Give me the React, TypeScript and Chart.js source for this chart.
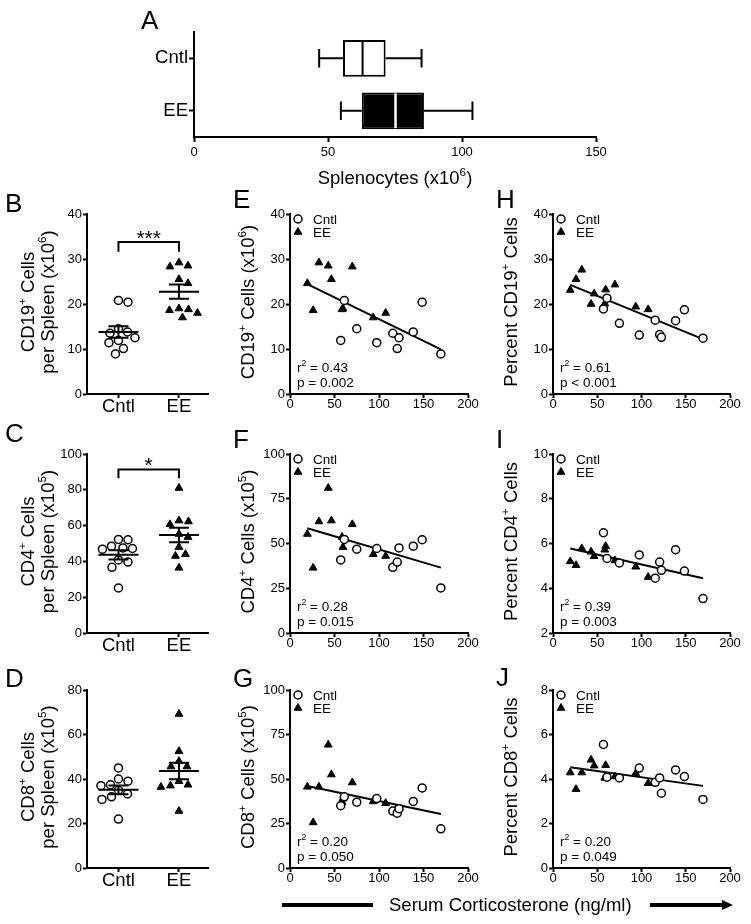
import React, { useEffect, useRef } from 'react';
import { Chart, registerables } from 'chart.js';

Chart.register(...registerables);

const FONT = '"Liberation Sans", Arial, Helvetica, sans-serif';
const TICK = 13;

// ---------------- DATA ----------------
const groups = ['Cntl', 'EE'];

// Panel A: splenocytes (x10^6) five-number summary: min, q1, median, q3, max
const splenoCntl = [46.7, 55.6, 62.9, 71.5, 84.9];
const splenoEE = [54.8, 62.6, 75.2, 85.8, 103.9];

// Serum corticosterone (ng/ml) per animal
const corticoCntl = [57, 61, 75, 97.5, 115.5, 120.5, 122.5, 138.5, 148.5, 169.5];
const corticoEE = [19.5, 26, 32.5, 43, 46.5, 58.5, 59.5, 70, 93.5, 107.5];

// Cell counts per spleen
const cd19CountCntl = [11.9, 20.8, 14.5, 11.4, 13.5, 10.1, 12.5, 13.8, 20.4, 8.9];
const cd19CountEE = [24.6, 18.6, 29.2, 28.5, 25.5, 18.8, 19.0, 28.3, 17.0, 18.0];
const cd4CountCntl = [40.8, 52.3, 46.8, 47.2, 36.7, 39.6, 47.5, 48.5, 52.1, 25.2];
const cd4CountEE = [55.3, 36.4, 62.3, 81.0, 62.8, 53.6, 48.0, 60.7, 44.0, 43.0];
const cd8CountCntl = [35.0, 40.0, 37.0, 39.0, 32.0, 30.8, 33.3, 37.4, 45.0, 22.0];
const cd8CountEE = [45.6, 25.6, 45.6, 69.2, 52.5, 37.0, 39.0, 48.0, 37.4, 36.4];

// Percent of splenocytes
const cd19PctCntl = [18.9, 21.3, 15.7, 13.1, 16.4, 13.2, 12.6, 16.3, 18.7, 12.4];
const cd19PctEE = [23.1, 25.5, 27.6, 20.0, 22.3, 20.1, 23.2, 24.3, 19.4, 18.8];
const cd4PctCntl = [6.48, 5.33, 5.13, 5.49, 4.45, 5.17, 4.8, 5.72, 4.77, 3.54];
const cd4PctEE = [5.2, 5.03, 5.78, 5.63, 5.43, 5.72, 5.88, 5.24, 4.96, 4.5];
const cd8PctCntl = [5.55, 4.08, 4.05, 4.49, 3.85, 4.05, 3.36, 4.41, 4.11, 3.08];
const cd8PctEE = [4.29, 3.54, 4.29, 4.86, 4.6, 4.05, 4.62, 4.11, 4.26, 3.81];

// Regression statistics (E, F, G, H, I, J)
const statR2 = ['0.43', '0.28', '0.20', '0.61', '0.39', '0.20'];
const statP = ['= 0.002', '= 0.015', '= 0.050', '< 0.001', '= 0.003', '= 0.049'];

// Significance labels (B, C, D)
const sigLabels = ['***', '*', ''];

// ---------------- HELPERS ----------------
type Seg = [string, boolean?];

function drawRich(
  ctx: CanvasRenderingContext2D,
  segs: Seg[],
  x: number,
  y: number,
  size: number,
  align: 'left' | 'center' = 'left',
  rotate = false
) {
  ctx.save();
  ctx.fillStyle = '#000';
  ctx.textBaseline = 'alphabetic';
  ctx.textAlign = 'left';
  ctx.translate(x, y);
  if (rotate) ctx.rotate(-Math.PI / 2);
  const supSize = size * 0.64;
  let total = 0;
  for (const [t, sup] of segs) {
    ctx.font = `${sup ? supSize : size}px ${FONT}`;
    total += ctx.measureText(t).width;
  }
  let cx = align === 'center' ? -total / 2 : 0;
  const base = size * 0.358;
  for (const [t, sup] of segs) {
    ctx.font = `${sup ? supSize : size}px ${FONT}`;
    ctx.fillText(t, cx, sup ? base - size * 0.42 : base);
    cx += ctx.measureText(t).width;
  }
  ctx.restore();
}

function drawLetter(ctx: CanvasRenderingContext2D, t: string, x: number, baseline: number) {
  ctx.save();
  ctx.fillStyle = '#000';
  ctx.font = `26px ${FONT}`;
  ctx.textBaseline = 'alphabetic';
  ctx.textAlign = 'left';
  ctx.fillText(t, x, baseline);
  ctx.restore();
}

function drawCircle(ctx: CanvasRenderingContext2D, x: number, y: number) {
  ctx.save();
  ctx.beginPath();
  ctx.arc(x, y, 4, 0, Math.PI * 2);
  ctx.fillStyle = '#fff';
  ctx.fill();
  ctx.lineWidth = 1.5;
  ctx.strokeStyle = '#000';
  ctx.stroke();
  ctx.restore();
}

function drawTriangle(ctx: CanvasRenderingContext2D, x: number, y: number) {
  const r = 4.5;
  ctx.save();
  ctx.beginPath();
  ctx.moveTo(x, y - r);
  ctx.lineTo(x + 0.866 * r, y + 0.5 * r);
  ctx.lineTo(x - 0.866 * r, y + 0.5 * r);
  ctx.closePath();
  ctx.fillStyle = '#000';
  ctx.fill();
  ctx.lineWidth = 1;
  ctx.strokeStyle = '#000';
  ctx.stroke();
  ctx.restore();
}

const mean = (a: number[]) => a.reduce((s, v) => s + v, 0) / a.length;
const sem = (a: number[]) => {
  const m = mean(a);
  return Math.sqrt(a.reduce((s, v) => s + (v - m) ** 2, 0) / (a.length - 1)) / Math.sqrt(a.length);
};

// beeswarm offsets (in x-units) so markers do not overlap
function swarm(values: number[], pxPerY: number, pxPerX: number, diameter: number): number[] {
  const order = values.map((_, i) => i).sort((a, b) => values[b] - values[a]);
  const placed: { x: number; y: number }[] = [];
  const out = new Array(values.length).fill(0);
  for (const i of order) {
    const y = values[i] * pxPerY;
    let best = 0;
    outer: for (let k = 0; k < 400; k++) {
      const cands = k === 0 ? [0] : [k * 0.5, -k * 0.5];
      for (const c of cands) {
        if (placed.every((p) => Math.hypot(p.x - c, p.y - y) >= diameter)) {
          best = c;
          break outer;
        }
      }
    }
    placed.push({ x: best, y });
    out[i] = best / pxPerX;
  }
  return out;
}

function axis(fontSize: number, tickLen: number, pad: number, tickExtra: any = {}, rest: any = {}) {
  return {
    border: { display: true, color: '#000', width: 2 },
    grid: {
      display: true,
      drawOnChartArea: false,
      drawTicks: true,
      tickLength: tickLen,
      tickWidth: 2,
      tickColor: '#000',
      color: '#000',
      ...(rest.grid || {}),
    },
    ticks: { color: '#000', font: { family: FONT, size: fontSize, lineHeight: 1 }, padding: pad, ...tickExtra },
    ...Object.fromEntries(Object.entries(rest).filter(([k]) => k !== 'grid')),
  };
}

type Rect = { x: number; y: number; w: number; h: number };
type Area = { L: number; T: number; R: number; B: number };

function ChartBox({ cell, area, make, yw = 30, xh = 22 }: { cell: Rect; area: Area; make: () => any; yw?: number; xh?: number }) {
  const ref = useRef<HTMLCanvasElement>(null);
  useEffect(() => {
    const cfg = make();
    cfg.options = cfg.options || {};
    cfg.options.animation = false;
    cfg.options.responsive = false;
    cfg.options.maintainAspectRatio = false;
    cfg.options.events = [];
    cfg.options.layout = {
      padding: {
        left: area.L - cell.x - yw,
        top: area.T - cell.y,
        right: cell.x + cell.w - area.R,
        bottom: cell.y + cell.h - area.B - xh,
      },
    };
    cfg.options.scales.x.afterFit = (s: any) => {
      s.height = xh;
    };
    cfg.options.scales.y.afterFit = (s: any) => {
      s.width = yw;
    };
    cfg.options.plugins = { ...(cfg.options.plugins || {}), legend: { display: false }, tooltip: { enabled: false } };
    const chart = new Chart(ref.current as HTMLCanvasElement, cfg);
    return () => chart.destroy();
  }, []);
  return (
    <canvas
      ref={ref}
      width={cell.w}
      height={cell.h}
      style={{ position: 'absolute', left: cell.x, top: cell.y, width: cell.w, height: cell.h }}
    />
  );
}

// ---------------- PANEL A ----------------
const cellA: Rect = { x: 130, y: 0, w: 490, h: 195 };
const areaA: Area = { L: 194, T: 32, R: 596, B: 137 };

function makeA() {
  const stats = [splenoCntl, splenoEE];
  return {
    type: 'bar',
    data: {
      labels: groups,
      datasets: [
        {
          data: stats.map((s) => [s[1], s[3]]),
          backgroundColor: ['#fff', '#000'],
          borderColor: '#000',
          borderWidth: 2,
          borderSkipped: false,
          barPercentage: 0.7,
          categoryPercentage: 1,
        },
      ],
    },
    options: {
      indexAxis: 'y',
      scales: {
        x: { type: 'linear', min: 0, max: 150, ...axis(TICK, 5, 4, { stepSize: 50 }) },
        y: { type: 'category', ...axis(18.5, 5, 1, {}, { grid: { offset: false } }) },
      },
    },
    plugins: [
      {
        id: 'boxdeco',
        afterDatasetsDraw(chart: any) {
          const ctx = chart.ctx as CanvasRenderingContext2D;
          const xs = chart.scales.x;
          const ys = chart.scales.y;
          const meta = chart.getDatasetMeta(0);
          stats.forEach((s, i) => {
            const yc = ys.getPixelForValue(i);
            const h = meta.data[i].height;
            ctx.save();
            ctx.strokeStyle = '#000';
            ctx.lineWidth = 2;
            ctx.beginPath();
            ctx.moveTo(xs.getPixelForValue(s[0]), yc);
            ctx.lineTo(xs.getPixelForValue(s[1]), yc);
            ctx.moveTo(xs.getPixelForValue(s[3]), yc);
            ctx.lineTo(xs.getPixelForValue(s[4]), yc);
            ctx.moveTo(xs.getPixelForValue(s[0]), yc - h / 4);
            ctx.lineTo(xs.getPixelForValue(s[0]), yc + h / 4);
            ctx.moveTo(xs.getPixelForValue(s[4]), yc - h / 4);
            ctx.lineTo(xs.getPixelForValue(s[4]), yc + h / 4);
            ctx.stroke();
            ctx.beginPath();
            ctx.strokeStyle = i === 0 ? '#000' : '#fff';
            ctx.lineWidth = i === 0 ? 2 : 2.5;
            ctx.moveTo(xs.getPixelForValue(s[2]), yc - h / 2 + 1);
            ctx.lineTo(xs.getPixelForValue(s[2]), yc + h / 2 - 1);
            ctx.stroke();
            ctx.restore();
          });
        },
        afterDraw(chart: any) {
          const ctx = chart.ctx as CanvasRenderingContext2D;
          drawLetter(ctx, 'A', 141 - cellA.x, 29 - cellA.y);
          drawRich(ctx, [['Splenocytes (x10'], ['6', true], [')']], 395 - cellA.x, 184 - 0.358 * 18.5 - cellA.y, 18.5, 'center');
        },
      },
    ],
  };
}

// ---------------- DOT PLOTS B, C, D ----------------
type DotPanel = {
  key: string;
  letter: string;
  letterBase: number;
  cell: Rect;
  area: Area;
  line1: Seg[];
  line2: Seg[];
  cntl: number[];
  ee: number[];
  yMax: number;
  yStep: number;
  sig: string;
  bracketTop: number;
  bracketLeg: number;
};

const dotPanels: DotPanel[] = [
  {
    key: 'B', letter: 'B', letterBase: 212,
    cell: { x: 0, y: 180, w: 220, h: 240 }, area: { L: 87, T: 214, R: 208, B: 394 },
    line1: [['CD19'], ['+', true], [' Cells']], line2: [['per Spleen (x10'], ['6', true], [')']],
    cntl: cd19CountCntl, ee: cd19CountEE, yMax: 40, yStep: 10, sig: sigLabels[0], bracketTop: 33.8, bracketLeg: 31.6,
  },
  {
    key: 'C', letter: 'C', letterBase: 442,
    cell: { x: 0, y: 420, w: 220, h: 240 }, area: { L: 87, T: 454, R: 208, B: 633 },
    line1: [['CD4'], ['+', true], [' Cells']], line2: [['per Spleen (x10'], ['5', true], [')']],
    cntl: cd4CountCntl, ee: cd4CountEE, yMax: 100, yStep: 20, sig: sigLabels[1], bracketTop: 91.4, bracketLeg: 86.4,
  },
  {
    key: 'D', letter: 'D', letterBase: 687,
    cell: { x: 0, y: 655, w: 220, h: 240 }, area: { L: 87, T: 690, R: 208, B: 868 },
    line1: [['CD8'], ['+', true], [' Cells']], line2: [['per Spleen (x10'], ['5', true], [')']],
    cntl: cd8CountCntl, ee: cd8CountEE, yMax: 80, yStep: 20, sig: sigLabels[2], bracketTop: 0, bracketLeg: 0,
  },
];

const DOT_XMIN = -0.52;
const DOT_XMAX = 1.48;

function makeDot(p: DotPanel) {
  const pxY = (p.area.B - p.area.T) / p.yMax;
  const pxX = (p.area.R - p.area.L) / (DOT_XMAX - DOT_XMIN);
  const offC = swarm(p.cntl, pxY, pxX, 9.5);
  const offE = swarm(p.ee, pxY, pxX, 9.5);
  const series = [p.cntl, p.ee];
  return {
    type: 'scatter',
    data: {
      datasets: [
        {
          data: p.cntl.map((y, i) => ({ x: 0 + offC[i], y })),
          pointStyle: 'circle', pointRadius: 4, backgroundColor: '#fff', borderColor: '#000', borderWidth: 1.5,
        },
        {
          data: p.ee.map((y, i) => ({ x: 1 + offE[i], y })),
          pointStyle: 'triangle', pointRadius: 4.5, backgroundColor: '#000', borderColor: '#000', borderWidth: 1,
        },
      ],
    },
    options: {
      scales: {
        x: {
          type: 'linear', min: DOT_XMIN, max: DOT_XMAX,
          afterBuildTicks: (s: any) => {
            s.ticks = [{ value: 0 }, { value: 1 }];
          },
          ...axis(18.5, 4, 0, { callback: (v: number) => groups[v] ?? '' }),
        },
        y: { type: 'linear', min: 0, max: p.yMax, ...axis(TICK, 4, 1, { stepSize: p.yStep }) },
      },
    },
    plugins: [
      {
        id: 'dotdeco',
        afterDatasetsDraw(chart: any) {
          const ctx = chart.ctx as CanvasRenderingContext2D;
          const xs = chart.scales.x;
          const ys = chart.scales.y;
          ctx.save();
          ctx.strokeStyle = '#000';
          ctx.lineWidth = 2;
          series.forEach((s, g) => {
            const m = mean(s);
            const e = sem(s);
            const xc = xs.getPixelForValue(g);
            const ym = ys.getPixelForValue(m);
            const yt = ys.getPixelForValue(m + e);
            const yb = ys.getPixelForValue(m - e);
            ctx.beginPath();
            ctx.moveTo(xc - 20, ym);
            ctx.lineTo(xc + 20, ym);
            ctx.moveTo(xc, yt);
            ctx.lineTo(xc, yb);
            ctx.moveTo(xc - 10, yt);
            ctx.lineTo(xc + 10, yt);
            ctx.moveTo(xc - 10, yb);
            ctx.lineTo(xc + 10, yb);
            ctx.stroke();
          });
          if (p.sig) {
            const x0 = xs.getPixelForValue(0);
            const x1 = xs.getPixelForValue(1);
            const yT = ys.getPixelForValue(p.bracketTop);
            const yL = ys.getPixelForValue(p.bracketLeg);
            ctx.beginPath();
            ctx.moveTo(x0, yL);
            ctx.lineTo(x0, yT);
            ctx.lineTo(x1, yT);
            ctx.lineTo(x1, yL);
            ctx.stroke();
            ctx.fillStyle = '#000';
            ctx.font = `21px ${FONT}`;
            ctx.textAlign = 'center';
            ctx.textBaseline = 'alphabetic';
            ctx.fillText(p.sig, (x0 + x1) / 2, yT + 3);
          }
          ctx.restore();
        },
        afterDraw(chart: any) {
          const ctx = chart.ctx as CanvasRenderingContext2D;
          const cy = (p.area.T + p.area.B) / 2 - 2 - p.cell.y;
          drawLetter(ctx, p.letter, 5 - p.cell.x, p.letterBase - p.cell.y);
          drawRich(ctx, p.line1, 27 - p.cell.x, cy, 18.5, 'center', true);
          drawRich(ctx, p.line2, 47 - p.cell.x, cy, 18.5, 'center', true);
        },
      },
    ],
  };
}

// ---------------- SCATTER PANELS E-J ----------------
type ScatterPanel = {
  key: string;
  letter: string;
  letterX: number;
  letterBase: number;
  titleX: number;
  cell: Rect;
  area: Area;
  title: Seg[];
  cntl: number[];
  ee: number[];
  yMin: number;
  yMax: number;
  yStep: number;
  r2: string;
  p: string;
};

const scatterPanels: ScatterPanel[] = [
  {
    key: 'E', letter: 'E', letterX: 233, letterBase: 208, titleX: 247,
    cell: { x: 220, y: 180, w: 270, h: 240 }, area: { L: 290, T: 214, R: 468, B: 394 },
    title: [['CD19'], ['+', true], [' Cells (x10'], ['6', true], [')']],
    cntl: cd19CountCntl, ee: cd19CountEE, yMin: 0, yMax: 40, yStep: 10, r2: statR2[0], p: statP[0],
  },
  {
    key: 'F', letter: 'F', letterX: 233, letterBase: 448, titleX: 247,
    cell: { x: 220, y: 420, w: 270, h: 240 }, area: { L: 290, T: 454, R: 468, B: 633 },
    title: [['CD4'], ['+', true], [' Cells (x10'], ['5', true], [')']],
    cntl: cd4CountCntl, ee: cd4CountEE, yMin: 0, yMax: 100, yStep: 25, r2: statR2[1], p: statP[1],
  },
  {
    key: 'G', letter: 'G', letterX: 233, letterBase: 687, titleX: 247,
    cell: { x: 220, y: 655, w: 270, h: 240 }, area: { L: 290, T: 690, R: 468, B: 868 },
    title: [['CD8'], ['+', true], [' Cells (x10'], ['5', true], [')']],
    cntl: cd8CountCntl, ee: cd8CountEE, yMin: 0, yMax: 100, yStep: 25, r2: statR2[2], p: statP[2],
  },
  {
    key: 'H', letter: 'H', letterX: 496, letterBase: 208, titleX: 510,
    cell: { x: 490, y: 180, w: 261, h: 240 }, area: { L: 553, T: 214, R: 730, B: 394 },
    title: [['Percent CD19'], ['+', true], [' Cells']],
    cntl: cd19PctCntl, ee: cd19PctEE, yMin: 0, yMax: 40, yStep: 10, r2: statR2[3], p: statP[3],
  },
  {
    key: 'I', letter: 'I', letterX: 496, letterBase: 448, titleX: 510,
    cell: { x: 490, y: 420, w: 261, h: 240 }, area: { L: 553, T: 454, R: 730, B: 633 },
    title: [['Percent CD4'], ['+', true], [' Cells']],
    cntl: cd4PctCntl, ee: cd4PctEE, yMin: 2, yMax: 10, yStep: 2, r2: statR2[4], p: statP[4],
  },
  {
    key: 'J', letter: 'J', letterX: 496, letterBase: 686, titleX: 510,
    cell: { x: 490, y: 655, w: 261, h: 240 }, area: { L: 553, T: 690, R: 730, B: 868 },
    title: [['Percent CD8'], ['+', true], [' Cells']],
    cntl: cd8PctCntl, ee: cd8PctEE, yMin: 0, yMax: 8, yStep: 2, r2: statR2[5], p: statP[5],
  },
];

function makeScatter(p: ScatterPanel) {
  const xs = [...corticoCntl, ...corticoEE];
  const ys = [...p.cntl, ...p.ee];
  const mx = mean(xs);
  const my = mean(ys);
  let sxy = 0;
  let sxx = 0;
  xs.forEach((x, i) => {
    sxy += (x - mx) * (ys[i] - my);
    sxx += (x - mx) ** 2;
  });
  const slope = sxy / sxx;
  const icpt = my - slope * mx;
  const x0 = Math.min(...xs);
  const x1 = Math.max(...xs);
  return {
    type: 'scatter',
    data: {
      datasets: [
        {
          data: corticoCntl.map((x, i) => ({ x, y: p.cntl[i] })),
          pointStyle: 'circle', pointRadius: 4, backgroundColor: '#fff', borderColor: '#000', borderWidth: 1.5,
        },
        {
          data: corticoEE.map((x, i) => ({ x, y: p.ee[i] })),
          pointStyle: 'triangle', pointRadius: 4.5, backgroundColor: '#000', borderColor: '#000', borderWidth: 1,
        },
        {
          data: [
            { x: x0, y: icpt + slope * x0 },
            { x: x1, y: icpt + slope * x1 },
          ],
          showLine: true, pointRadius: 0, borderColor: '#000', borderWidth: 2, fill: false,
        },
      ],
    },
    options: {
      scales: {
        x: { type: 'linear', min: 0, max: 200, ...axis(TICK, 4, 0, { stepSize: 50 }) },
        y: { type: 'linear', min: p.yMin, max: p.yMax, ...axis(TICK, 4, 1, { stepSize: p.yStep }) },
      },
    },
    plugins: [
      {
        id: 'scdeco',
        afterDraw(chart: any) {
          const ctx = chart.ctx as CanvasRenderingContext2D;
          const ox = p.cell.x;
          const oy = p.cell.y;
          const { L, T, B } = p.area;
          drawLetter(ctx, p.letter, p.letterX - ox, p.letterBase - oy);
          drawRich(ctx, p.title, p.titleX - ox, (T + B) / 2 - 2 - oy, 18.5, 'center', true);
          // legend
          drawCircle(ctx, L + 8 - ox, T + 5 - oy);
          drawTriangle(ctx, L + 8 - ox, T + 18 - oy);
          drawRich(ctx, [['Cntl']], L + 23 - ox, T + 5 - oy, 13.5);
          drawRich(ctx, [['EE']], L + 23 - ox, T + 18 - oy, 13.5);
          // stats
          drawRich(ctx, [['r'], ['2', true], [' = ' + p.r2]], L + 7 - ox, B - 27 - oy, 13.5);
          drawRich(ctx, [['p ' + p.p]], L + 7 - ox, B - 12 - oy, 13.5);
        },
      },
    ],
  };
}

// ---------------- APP ----------------
export default function App() {
  return (
    <div style={{ position: 'absolute', left: 0, top: 0, width: 751, height: 924, background: '#fff' }}>
      <ChartBox cell={cellA} area={areaA} make={makeA} yw={40} xh={30} />
      {dotPanels.map((p) => (
        <ChartBox key={p.key} cell={p.cell} area={p.area} make={() => makeDot(p)} />
      ))}
      {scatterPanels.map((p) => (
        <ChartBox key={p.key} cell={p.cell} area={p.area} make={() => makeScatter(p)} />
      ))}
      <div style={{ position: 'absolute', left: 282, top: 903, width: 91, height: 4, background: '#000' }} />
      <div
        style={{
          position: 'absolute',
          left: 389,
          top: 896,
          fontFamily: FONT,
          fontSize: 18.5,
          lineHeight: '18.5px',
          whiteSpace: 'nowrap',
          color: '#000',
        }}
      >
        Serum Corticosterone (ng/ml)
      </div>
      <div style={{ position: 'absolute', left: 650, top: 903, width: 74, height: 4, background: '#000' }} />
      <div
        style={{
          position: 'absolute',
          left: 722,
          top: 900,
          width: 0,
          height: 0,
          borderTop: '5px solid transparent',
          borderBottom: '5px solid transparent',
          borderLeft: '11px solid #000',
        }}
      />
    </div>
  );
}
